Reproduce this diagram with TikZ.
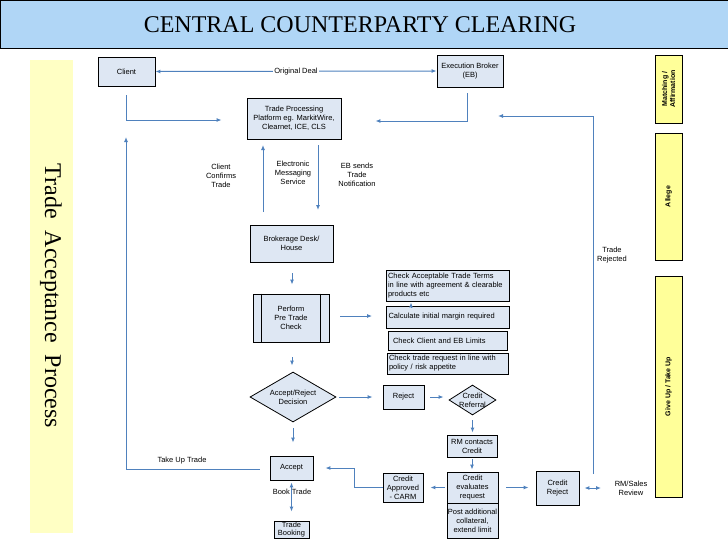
\documentclass[tikz,border=0pt]{standalone}
\usepackage{fontspec}
\setmainfont{Liberation Sans}
\newfontfamily\serifx{Liberation Serif}
\usetikzlibrary{shapes.geometric,arrows.meta}
\definecolor{flow}{RGB}{79,129,189}
\definecolor{boxfill}{RGB}{222,231,243}
\definecolor{titlefill}{RGB}{176,214,246}
\definecolor{barfill}{RGB}{255,255,153}
\definecolor{leftfill}{RGB}{255,255,196}
\begin{document}
\begin{tikzpicture}[x=1pt,y=-1pt,
  every node/.style={font=\fontsize{7.5}{9}\selectfont},
  box/.style={draw=black,fill=boxfill,line width=0.8pt,align=center,inner sep=1pt},
  checkbox/.style={draw=black,fill=boxfill,line width=0.8pt,align=left,inner sep=2pt,minimum width=123pt},
  flowline/.style={draw=flow,line width=1pt},
  arr/.style={flowline,-{Latex[length=5pt,width=4pt]}},
  darr/.style={flowline,{Latex[length=5pt,width=4pt]}-{Latex[length=5pt,width=4pt]}},
  lbl/.style={align=center,inner sep=0.5pt},
  barbox/.style={draw=black,fill=barfill,line width=0.8pt},
  bartext/.style={rotate=90,font=\fontsize{7}{8}\selectfont\bfseries,align=center},
  decision/.style={diamond,draw=black,fill=boxfill,line width=0.8pt,inner sep=0pt,align=center},
]
\useasboundingbox (0,0) rectangle (728,546);
% title
\filldraw[fill=titlefill,draw=black,line width=1pt] (0.5,0.5) rectangle (729,48);
\node[font=\serifx\fontsize{24}{28}\selectfont] (title) at (360,25) {CENTRAL COUNTERPARTY CLEARING};
% left bar
\fill[leftfill] (30,60) rectangle (73,533);
\node[rotate=-90,font=\serifx\fontsize{24}{28}\selectfont] (tap) at (51,296) {Trade\ \ Acceptance\ \ Process};
% right bars
\filldraw[barbox] (655,55) rectangle (682,123);
\node[bartext] (mat) at (668.5,89) {Matching /\\Affirmation};
\filldraw[barbox] (655,133) rectangle (682,260);
\node[bartext] (all) at (668.5,196.5) {Allege};
\filldraw[barbox] (655,276) rectangle (682,497);
\node[bartext] (giv) at (668.5,386.5) {Give Up / Take Up};

% nodes
\node[box,minimum width=57pt,minimum height=29pt] (client) at (126.5,71.5) {Client};
\node[box,minimum width=66pt,minimum height=32pt] (eb) at (470,71) {Execution Broker\\(EB)};
\node[box,minimum width=94pt,minimum height=41pt] (tp) at (294,118.5) {Trade Processing\\Platform eg. MarkitWire,\\Clearnet, ICE, CLS};
\node[box,minimum width=83pt,minimum height=37pt] (bd) at (291.5,243.5) {Brokerage Desk/\\House};
\node[box,minimum width=76pt,minimum height=48pt] (perf) at (291,318) {Perform\\Pre Trade\\Check};
\draw[line width=0.8pt] ([xshift=9pt]perf.north west) -- ([xshift=9pt]perf.south west);
\draw[line width=0.8pt] ([xshift=-9pt]perf.north east) -- ([xshift=-9pt]perf.south east);

\node[checkbox,text width=119pt,minimum height=31pt] (cb1) at (447.5,285.5) {Check Acceptable Trade Terms\\in line with agreement \& clearable\\products etc};
\node[checkbox,text width=119pt,minimum height=22pt] (cb2) at (448,317) {Calculate initial margin required};
\node[checkbox,text width=115pt,minimum width=119pt,minimum height=19pt] (cb3) at (447.5,340.5) {\hspace{3pt}Check Client and EB Limits};
\node[checkbox,text width=117pt,minimum width=121pt,minimum height=21pt] (cb4) at (447.5,363.5) {Check trade request in line with\\policy / risk appetite};

\node[decision,minimum width=86pt,minimum height=50pt,aspect=1.72] (dec) at (293,397) {Accept/Reject\\Decision};
\node[box,minimum width=41pt,minimum height=24pt] (rej) at (403.5,397) {Reject};
\node[decision,minimum width=47pt,minimum height=30pt] (cref) at (472.5,400) {};
\node[lbl] (creft) at (cref) {Credit\\Referral};
\node[box,minimum width=50pt,minimum height=22pt] (rm) at (472,446) {RM contacts\\Credit};
\node[box,minimum width=51pt,minimum height=31pt] (ce) at (472.5,487.5) {Credit\\evaluates\\request};
\node[box,minimum width=51pt,minimum height=35pt] (post) at (472.5,520.5) {Post additional\\collateral,\\extend limit};
\node[box,minimum width=40pt,minimum height=29pt] (ca) at (403,487.5) {Credit\\Approved\\- CARM};
\node[box,minimum width=43pt,minimum height=34pt] (crej) at (557.5,488) {Credit\\Reject};
\node[lbl] (rms) at (631,488) {RM/Sales\\Review};
\node[box,minimum width=43pt,minimum height=24pt] (acc) at (291.5,468) {Accept};
\node[box,minimum width=35pt,minimum height=17pt,inner sep=0pt,font=\fontsize{7.5}{8.5}\selectfont] (tb) at (291.5,529.5) {Trade\\Booking};

% labels
\node[lbl] (l1) at (221,176) {Client\\Confirms\\Trade};
\node[lbl] (l2) at (293,173) {Electronic\\Messaging\\Service};
\node[lbl] (l3) at (357,175) {EB sends\\Trade\\Notification};
\node[lbl] (l4) at (612,255) {Trade\\Rejected};
\node[lbl] (l5) at (182,461) {Take Up Trade};

% coordinates for free ends
\coordinate (up1) at (263,212);
\coordinate (up2) at (263,145);
\coordinate (dn1) at (318,145);
\coordinate (dn2) at (318,210);
\coordinate (leftup) at (126,137);
\coordinate (trb) at (593,474);
\coordinate (trt) at (498,116);

% connectors
\draw[darr] (client.east) -- node[fill=white,inner sep=1pt] (od) {Original Deal} (eb.west);
\draw[arr,shorten <=9pt] (client.south) |- ([xshift=-25pt,yshift=-1.5pt]tp.west);
\draw[arr,shorten <=6pt] ([xshift=-3pt]eb.south) |- ([xshift=34pt,yshift=-2.5pt]tp.east);
\draw[arr] (trb) |- (trt);
\draw[arr] (up1) -- (up2);
\draw[arr] (dn1) -- (dn2);
\draw[arr,shorten <=10pt] ([yshift=-1pt]acc.west) -| (leftup);
\draw[arr,shorten <=11pt,shorten >=9pt] ([xshift=0.5pt]bd.south) -- ([xshift=0.5pt]bd.south |- perf.north);
\draw[arr,shorten <=15pt,shorten >=6pt] ([xshift=1pt]perf.south) -- ([xshift=1pt]perf.south |- dec.north);
\draw[arr,shorten <=11pt,shorten >=14pt] ([yshift=2pt]perf.east) -- ([yshift=2pt]perf.east -| cb2.west);
\draw[arr,shorten <=1pt,shorten >=1pt] ([xshift=-37pt]cb2.north) -- ([xshift=-37pt]cb2.north |- cb1.south);
\draw[arr,shorten <=6pt,shorten >=13pt] (dec.south) -- (dec.south |- acc.north);
\draw[arr,shorten <=3pt,shorten >=10pt] (dec.east) -- (dec.east -| rej.west);
\draw[arr,shorten <=6pt,shorten >=5pt] (rej.east) -- (rej.east -| cref.west);
\draw[arr,shorten <=5pt,shorten >=2pt] (cref.south) -- (cref.south |- rm.north);
\draw[arr,shorten <=2pt,shorten >=2pt] (rm.south) -- (rm.south |- ce.north);
\draw[arr,shorten <=2pt,shorten >=7pt] (ce.west) -- (ce.west -| ca.east);
\draw[arr,shorten <=8pt,shorten >=7pt] (ce.east) -- (ce.east -| crej.west);
\draw[arr] (ca.west) -- ++(-28,0) |- ([xshift=12pt]acc.east);
\draw[darr,shorten <=5pt,shorten >=13pt] (crej.east) -- (rms.west);
\draw[darr,shorten <=2pt,shorten >=9pt] (acc.south) -- (tb.north);
\node[lbl] (bt) at (292,492) {Book Trade};
\end{tikzpicture}
\end{document}
